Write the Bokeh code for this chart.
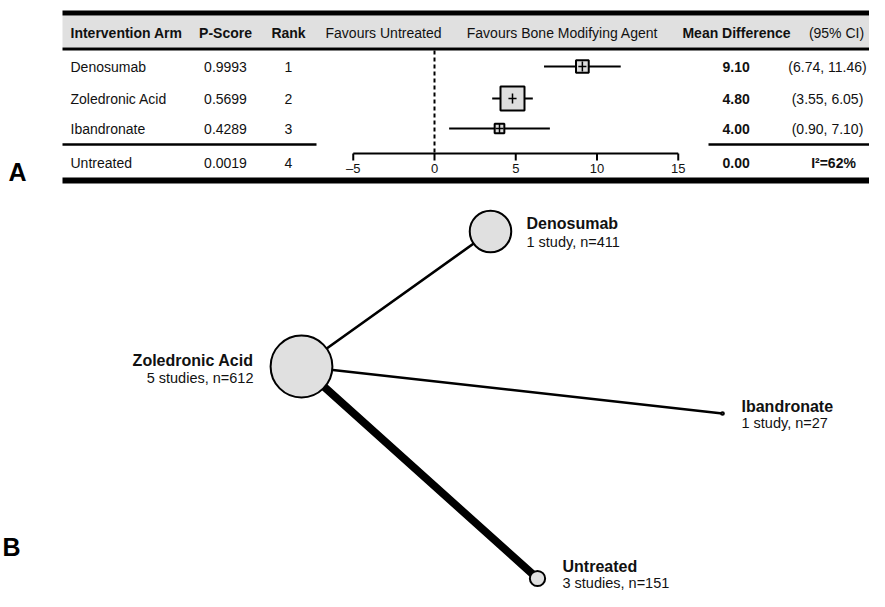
from bokeh.plotting import figure
from bokeh.models import Range1d, ColumnDataSource
from bokeh.core.properties import value
from bokeh.embed import file_html
from bokeh.resources import INLINE

# ---------------- data ----------------
arms = ["Denosumab", "Zoledronic Acid", "Ibandronate", "Untreated"]
p_scores = ["0.9993", "0.5699", "0.4289", "0.0019"]
ranks = [1, 2, 3, 4]
mean_diff = [9.10, 4.80, 4.00, 0.00]
ci_low = [6.74, 3.55, 0.90]
ci_high = [11.46, 6.05, 7.10]
i_squared = 62
forest_ticks = [-5, 0, 5, 10, 15]

header_cols = ["Intervention Arm", "P-Score", "Rank", "Favours Untreated",
               "Favours Bone Modifying Agent", "Mean Difference", "(95% CI)"]

# network
net_nodes = ["Denosumab", "Zoledronic Acid", "Ibandronate", "Untreated"]
net_studies = [1, 5, 1, 3]
net_n = [411, 612, 27, 151]
edge_from = ["Zoledronic Acid", "Zoledronic Acid", "Zoledronic Acid"]
edge_to = ["Denosumab", "Ibandronate", "Untreated"]
edge_studies = [1, 1, 3]

# ---------------- layout (pixels) ----------------
FONT = value("Liberation Sans")
W, H = 869, 591
p = figure(width=W, height=H, x_range=Range1d(0, W), y_range=Range1d(H, 0),
           output_backend="svg", toolbar_location=None, min_border=0, tools="")
p.axis.visible = False
p.grid.visible = False
p.outline_line_color = None
p.background_fill_color = "white"
p.border_fill_color = "white"

# forest scale: 0 at x=434, 16.25 px per unit
f0, fk = 434.0, 16.25
p.extra_x_ranges = {"forest": Range1d(start=(0 - f0) / fk, end=(W - f0) / fk)}

row_y = [66, 98, 128, 162]
tbl_left, tbl_right = 62, W

# header band and rules
p.quad(left=[tbl_left], right=[tbl_right], top=[15], bottom=[47],
       fill_color="#e0e0e0", line_color=None)
p.segment(x0=[tbl_left], y0=[12.5], x1=[tbl_right], y1=[12.5], line_width=5, line_color="black")
p.segment(x0=[tbl_left], y0=[48.5], x1=[tbl_right], y1=[48.5], line_width=3, line_color="black")
p.segment(x0=[tbl_left], y0=[180], x1=[tbl_right], y1=[180], line_width=6, line_color="black")
p.segment(x0=[tbl_left, 708], y0=[144, 144], x1=[316, tbl_right], y1=[144, 144],
          line_width=2.5, line_color="black")

# header text
hx = [70, 225, 288, 383, 562, 736, 836]
halign = ["left", "center", "center", "center", "center", "center", "center"]
hbold = ["bold", "bold", "bold", "normal", "normal", "bold", "normal"]
for x, t, a, b in zip(hx, header_cols, halign, hbold):
    p.text(x=[x], y=[32], text=[t], text_font=FONT, text_font_size="14px",
           text_font_style=b, text_align=a, text_baseline="middle", text_color="#111111")


def txt(xs, ys, texts, align="left", bold="normal", size="14px"):
    p.text(x=xs, y=ys, text=texts, text_font=FONT, text_font_size=size,
           text_font_style=bold, text_align=align, text_baseline="middle", text_color="#111111")


# rows
txt([70] * 4, row_y, arms)
txt([225] * 4, row_y, p_scores, align="center")
txt([288] * 4, row_y, [str(r) for r in ranks], align="center")
txt([722] * 4, row_y, ["%.2f" % v for v in mean_diff], bold="bold")
ci_txt = ["(%.2f, %.2f)" % (lo, hi) for lo, hi in zip(ci_low, ci_high)]
txt([827] * 3, row_y[:3], ci_txt, align="center")
txt([833], [row_y[3]], ["I\u00b2=%d%%" % i_squared], align="center", bold="bold")

# forest plot
n_ci = len(ci_low)
p.segment(x0=[0], y0=[50], x1=[0], y1=[153], x_range_name="forest",
          line_dash="4 3", line_width=2, line_color="black")
p.segment(x0=ci_low, y0=row_y[:n_ci], x1=ci_high, y1=row_y[:n_ci], x_range_name="forest",
          line_width=2, line_color="black")
box_px = [60.0 / (hi - lo) for lo, hi in zip(ci_low, ci_high)]
p.scatter(x=mean_diff[:n_ci], y=row_y[:n_ci], size=box_px, marker="square",
          x_range_name="forest", fill_color="#dedede", line_color="black", line_width=2)
p.segment(x0=[m - 0.25 for m in mean_diff[:n_ci]], y0=row_y[:n_ci],
          x1=[m + 0.25 for m in mean_diff[:n_ci]], y1=row_y[:n_ci],
          x_range_name="forest", line_width=1.5, line_color="black")
p.segment(x0=mean_diff[:n_ci], y0=[y - 5 for y in row_y[:n_ci]],
          x1=mean_diff[:n_ci], y1=[y + 5 for y in row_y[:n_ci]],
          x_range_name="forest", line_width=1.5, line_color="black")
# forest axis
p.segment(x0=[forest_ticks[0]], y0=[153], x1=[forest_ticks[-1]], y1=[153],
          x_range_name="forest", line_width=2, line_color="black")
p.segment(x0=forest_ticks, y0=[153] * len(forest_ticks), x1=forest_ticks,
          y1=[160] * len(forest_ticks), x_range_name="forest", line_width=2, line_color="black")
p.text(x=forest_ticks, y=[168] * len(forest_ticks),
       text=[str(t).replace("-", "\u2013") for t in forest_ticks], x_range_name="forest",
       text_font=FONT, text_font_size="13px", text_align="center", text_baseline="middle",
       text_color="#111111")

# panel letters
for lab, lx, ly in (("A", 8, 171), ("B", 2, 546)):
    p.text(x=[lx], y=[ly], text=[lab], text_font=FONT, text_font_size="25px",
           text_font_style="bold", text_align="left", text_baseline="middle", text_color="black")

# ---------------- network ----------------
pos = {"Denosumab": (490, 231), "Zoledronic Acid": (301, 366),
       "Ibandronate": (722, 413), "Untreated": (537, 578)}
ex0 = [pos[a][0] for a in edge_from]
ey0 = [pos[a][1] for a in edge_from]
ex1 = [pos[b][0] for b in edge_to]
ey1 = [pos[b][1] for b in edge_to]
p.segment(x0=ex0, y0=ey0, x1=ex1, y1=ey1, line_width=[2.6 * s for s in edge_studies],
          line_color="black", line_cap="round")
nsrc = ColumnDataSource(dict(x=[pos[a][0] for a in net_nodes], y=[pos[a][1] for a in net_nodes],
                             size=[n * 0.101 for n in net_n]))
p.scatter(x="x", y="y", size="size", source=nsrc, marker="circle",
          fill_color="#e0e0e0", line_color="black", line_width=2)

lab_pos = {"Denosumab": (526, 223, 241, "left"),
           "Zoledronic Acid": (253, 360, 377, "right"),
           "Ibandronate": (741, 406, 422, "left"),
           "Untreated": (562, 566, 582, "left")}
for name, s, n in zip(net_nodes, net_studies, net_n):
    x, y1, y2, al = lab_pos[name]
    sub = "%d %s, n=%d" % (s, "study" if s == 1 else "studies", n)
    p.text(x=[x], y=[y1], text=[name], text_font=FONT, text_font_size="16px",
           text_font_style="bold", text_align=al, text_baseline="middle", text_color="#111111")
    p.text(x=[x], y=[y2], text=[sub], text_font=FONT, text_font_size="14.5px",
           text_align=al, text_baseline="middle", text_color="#111111")

open("out.html", "w").write(file_html(p, INLINE))
